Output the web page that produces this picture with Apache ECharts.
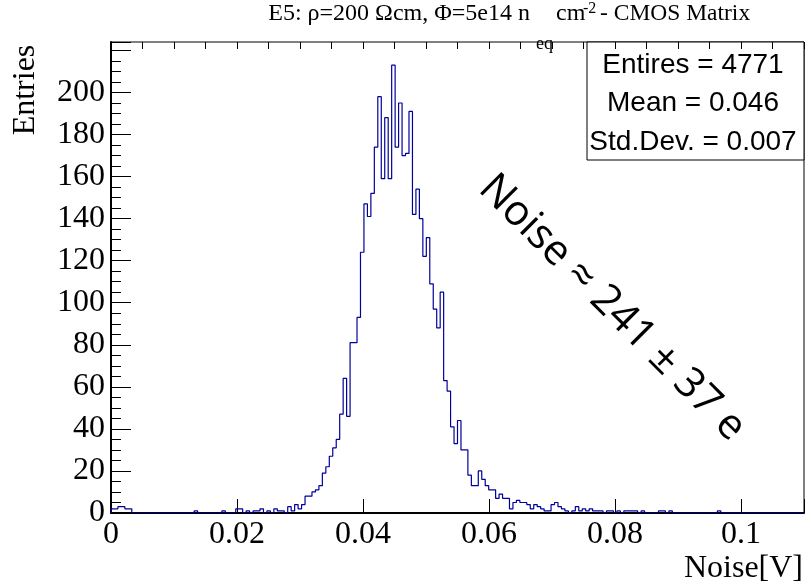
<!DOCTYPE html>
<html>
<head>
<meta charset="utf-8">
<script src="https://cdn.jsdelivr.net/npm/echarts@6/dist/echarts.min.js"></script>
<style>
html, body { margin: 0; padding: 0; background: #fff; }
#chart { width: 807px; height: 584px; }
</style>
</head>
<body>
<div id="chart"></div>
<script>
// histogram: 200 bins from 0 to 0.11 V
var binLow = 0;
var binHigh = 0.11;
var counts = [
	2, 2, 3, 3, 2, 2, 0, 0, 0, 0,
	0, 0, 0, 0, 0, 0, 0, 0, 0, 0,
	0, 0, 0, 0, 1, 0, 0, 0, 0, 0,
	0, 0, 1, 0, 0, 0, 2, 2, 0, 1,
	0, 1, 1, 2, 0, 1, 0, 2, 1, 1,
	0, 3, 1, 4, 2, 4, 8, 8, 10, 11,
	13, 19, 22, 27, 31, 35, 47, 64, 46, 81,
	81, 93, 124, 147, 141, 152, 174, 198, 159, 188,
	159, 213, 174, 195, 170, 171, 191, 142, 154, 140,
	122, 131, 109, 97, 88, 105, 63, 58, 41, 33,
	44, 30, 30, 18, 13, 13, 20, 16, 13, 11,
	11, 7, 9, 7, 7, 2, 5, 6, 5, 5,
	4, 2, 4, 3, 2, 1, 1, 4, 5, 3,
	2, 1, 0, 1, 3, 1, 2, 1, 2, 1,
	1, 1, 0, 1, 1, 0, 1, 0, 1, 1,
	1, 1, 0, 1, 0, 0, 0, 0, 1, 1,
	0, 1, 0, 0, 0, 0, 0, 0, 0, 0,
	0, 0, 0, 0, 0, 1, 0, 0, 0, 0,
	0, 0, 0, 0, 0, 0, 0, 0, 0, 0,
	0, 0, 0, 0, 0, 0, 0, 0, 0, 0
];
var statLines = ['Entires = 4771', 'Mean = 0.046', 'Std.Dev. = 0.007'];

var binWidth = (binHigh - binLow) / counts.length;
var histData = [[binLow, 0]];
for (var i = 0; i < counts.length; i++) {
	histData.push([binLow + i * binWidth, counts[i]]);
}
histData.push([binHigh, 0]);

var serif = '"Liberation Serif", "DejaVu Serif", serif';
var sans = '"Liberation Sans", Arial, sans-serif';

var chart = echarts.init(document.getElementById('chart'));

var statText = statLines.map(function (t, k) {
	return {
		type: 'text',
		x: 693, y: 65 + k * 38.5,
		style: { text: t, font: '28px ' + sans, fill: '#000', align: 'center', verticalAlign: 'middle' }
	};
});

var option = {
	animation: false,
	backgroundColor: '#fff',
	grid: {
		left: 111, right: 3, top: 42, bottom: 71,
		show: true, borderColor: '#000', borderWidth: 1,
		containLabel: false, outerBoundsMode: 'none'
	},
	xAxis: [{
		type: 'value',
		min: 0, max: 0.11, interval: 0.02,
		splitLine: { show: false },
		axisLine: { lineStyle: { color: '#000', width: 2 } },
		axisTick: { inside: true, length: 14, lineStyle: { color: '#000' } },
		axisLabel: {
			margin: 6, color: '#000', fontFamily: serif, fontSize: 32,
			formatter: function (v) { return v > 0.1001 ? '' : String(+v.toFixed(2)); }
		}
	}, {
		// minor ticks every 0.005
		type: 'value',
		min: 0, max: 0.11, interval: 0.005,
		splitLine: { show: false },
		axisLine: { show: false },
		axisTick: { inside: true, length: 7, lineStyle: { color: '#000' } },
		axisLabel: { show: false }
	}],
	yAxis: {
		type: 'value',
		min: 0, max: 224, interval: 20,
		splitLine: { show: false },
		axisLine: { show: true, lineStyle: { color: '#000', width: 2 } },
		axisTick: { show: true, inside: true, length: 20, lineStyle: { color: '#000' } },
		minorTick: { show: true, splitNumber: 4, length: 10, lineStyle: { color: '#000' } },
		axisLabel: {
			margin: 6, color: '#000', fontFamily: serif, fontSize: 32,
			formatter: function (v) { return v > 200 ? '' : String(v); }
		}
	},
	series: [{
		type: 'line',
		xAxisIndex: 0,
		step: 'end',
		symbol: 'none',
		data: histData,
		lineStyle: { color: '#00009a', width: 1.2 },
		clip: true
	}],
	graphic: [
		// title
		{ type: 'text', x: 530, y: 14, style: { text: 'E5: ρ=200 Ωcm, Φ=5e14 n', font: '24px ' + serif, fill: '#000', align: 'right', verticalAlign: 'middle' } },
		{ type: 'text', x: 536, y: 44, style: { text: 'eq', font: '18px ' + serif, fill: '#000', align: 'left', verticalAlign: 'middle' } },
		{ type: 'text', x: 556, y: 14, style: { text: 'cm', font: '24px ' + serif, fill: '#000', align: 'left', verticalAlign: 'middle' } },
		{ type: 'text', x: 583, y: 9, style: { text: '-2', font: '16px ' + serif, fill: '#000', align: 'left', verticalAlign: 'middle' } },
		{ type: 'text', x: 600, y: 14, style: { text: '- CMOS Matrix', font: '23.5px ' + serif, fill: '#000', align: 'left', verticalAlign: 'middle' } },
		// axis titles
		{ type: 'text', x: 26, y: 90, rotation: Math.PI / 2, style: { text: 'Entries', font: '32px ' + serif, fill: '#000', align: 'center', verticalAlign: 'middle' } },
		{ type: 'text', x: 803, y: 569, style: { text: 'Noise[V]', font: '32px ' + serif, fill: '#000', align: 'right', verticalAlign: 'middle' } },
		// stats box
		{ type: 'rect', shape: { x: 587, y: 42, width: 217, height: 118 }, style: { fill: '#fff', stroke: '#000', lineWidth: 1 } }
	].concat(statText).concat([
		{ type: 'text', x: 612, y: 308, rotation: -Math.PI / 4, style: { text: 'Noise ≈ 241 ± 37 e', font: '42px "Open Sans", sans-serif', fill: '#000', align: 'center', verticalAlign: 'middle' } }
	])
};

chart.setOption(option);
</script>
</body>
</html>
